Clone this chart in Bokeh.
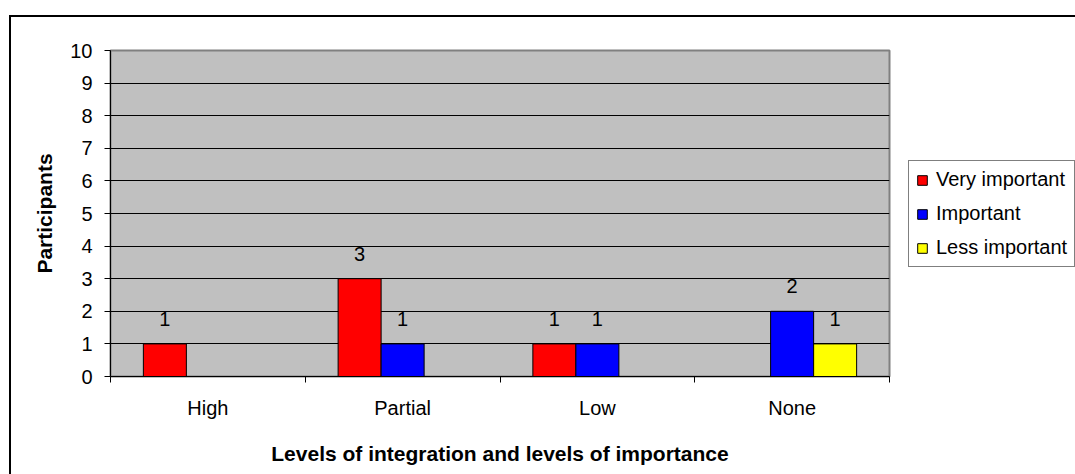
from bokeh.plotting import figure
from bokeh.models import (Range1d, LinearAxis, FixedTicker, ColumnDataSource, Legend,
                          LegendItem, Grid)
from bokeh.core.properties import value
from bokeh.embed import file_html
from bokeh.resources import INLINE

# ---- data ----
categories = ["High", "Partial", "Low", "None"]
very_important = [1, 3, 1, 0]
important = [0, 1, 1, 2]
less_important = [0, 0, 0, 1]
series_names = ["Very important", "Important", "Less important"]
series_colors = ["#FF0000", "#0000FF", "#FFFF00"]
y_ticks = list(range(0, 11))
x_title = "Levels of integration and levels of importance"
y_title = "Participants"

FONT = "Liberation Sans"
n = len(categories)
bar_w = 0.2208
offsets = [-bar_w, 0.0, bar_w]

p = figure(frame_width=779, frame_height=326, output_backend="svg", toolbar_location=None,
           x_range=Range1d(0, n), y_range=Range1d(0, 10),
           x_axis_type=None, y_axis_type=None,
           min_border_left=99, min_border_right=186, min_border_top=33,
           min_border_bottom=98,
           margin=(17, 0, 0, 11),
           styles={"outline": "2px solid black"},
           background_fill_color="#C0C0C0", border_fill_color="white",
           outline_line_color="#808080", outline_line_width=2)

# y axis
yaxis = LinearAxis(ticker=FixedTicker(ticks=y_ticks, minor_ticks=[]),
                   axis_label=y_title,
                   axis_label_text_font=FONT, axis_label_text_font_size="21px",
                   axis_label_text_font_style="bold", axis_label_text_color="black",
                   axis_label_standoff=11,
                   major_label_text_font=FONT, major_label_text_font_size="20px",
                   major_label_text_color="black", major_label_standoff=12,
                   major_tick_out=6, major_tick_in=0, minor_tick_out=0, minor_tick_in=0,
                   axis_line_color="black", major_tick_line_color="black")
p.add_layout(yaxis, "left")

# x axis: labels at category centres, ticks at category boundaries
centres = [i + 0.5 for i in range(n)]
overrides = {}
for c, name in zip(centres, categories):
    overrides[c] = name
    overrides[str(c)] = name
xaxis = LinearAxis(ticker=FixedTicker(ticks=centres, minor_ticks=list(range(n + 1))),
                   major_label_overrides=overrides,
                   axis_label=x_title,
                   axis_label_text_font=FONT, axis_label_text_font_size="21px",
                   axis_label_text_font_style="bold", axis_label_text_color="black",
                   axis_label_standoff=20,
                   major_label_text_font=FONT, major_label_text_font_size="20px",
                   major_label_text_color="black", major_label_standoff=14,
                   major_tick_out=0, major_tick_in=0, minor_tick_out=6, minor_tick_in=0,
                   axis_line_color="black", minor_tick_line_color="black")
p.add_layout(xaxis, "below")

p.add_layout(Grid(dimension=1, ticker=yaxis.ticker, grid_line_color="black",
                  grid_line_width=1))

series_vals = [very_important, important, less_important]
items = []
for s, (name, vals, color) in enumerate(zip(series_names, series_vals, series_colors)):
    xs = [i + 0.5 + offsets[s] for i, v in enumerate(vals) if v > 0]
    ys = [v for v in vals if v > 0]
    src = ColumnDataSource(dict(x=xs, top=ys, label=[str(v) for v in ys]))
    r = p.vbar(x="x", top="top", bottom=0, width=bar_w, source=src,
               fill_color=color, line_color="black", line_width=1)
    p.text(x="x", y="top", text="label", source=src, text_align="center",
           text_baseline="alphabetic", y_offset=-25, text_font=value(FONT),
           text_font_size="20px", text_color="black")
    items.append(LegendItem(label=name, renderers=[r]))

legend = Legend(items=items, location=(19, 109), orientation="vertical",
                label_text_font=FONT, label_text_font_size="20px",
                label_text_color="black", glyph_width=12, glyph_height=12,
                label_standoff=8, padding=7, spacing=11, margin=0,
                border_line_color="black", border_line_width=1,
                background_fill_color="white", background_fill_alpha=1)
p.add_layout(legend, "right")

open("out.html", "w").write(file_html(p, INLINE))
